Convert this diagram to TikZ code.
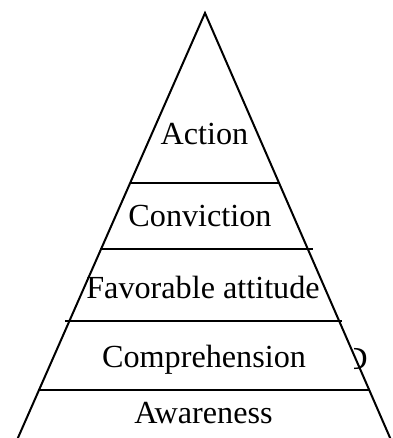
\documentclass[tikz,border=0pt]{standalone}
\usepackage{fontspec}
\setmainfont{Liberation Serif}
\begin{document}
\begin{tikzpicture}[x=1pt,y=-1pt,
  edge/.style={line width=2pt,line join=miter},
  lbl/.style={anchor=base,inner sep=0pt,font=\fontsize{32.2}{36}\selectfont}]
\useasboundingbox (0,0) rectangle (392,438);
\coordinate (apex) at (205,13);
\coordinate (bl) at (17,440);
\coordinate (br) at (391,440);
\draw[edge] (bl) -- (apex) -- (br);
\coordinate (l1a) at (130,183); \coordinate (l1b) at (280,183);
\coordinate (l2a) at (100,249); \coordinate (l2b) at (313,249);
\coordinate (l3a) at (65,321);  \coordinate (l3b) at (342,321);
\coordinate (l4a) at (38,390);  \coordinate (l4b) at (370,390);
\draw[edge] (l1a) -- (l1b);
\draw[edge] (l2a) -- (l2b);
\draw[edge] (l3a) -- (l3b);
\draw[edge] (l4a) -- (l4b);
\node[lbl] (action) at (204.5,145) {Action};
\node[lbl] (conviction) at (200,226) {Conviction};
\node[lbl] (favorable) at (203,298) {Favorable attitude};
\node[lbl] (comprehension) at (204,367) {Comprehension};
\node[lbl] (awareness) at (203.5,423) {Awareness};
\begin{scope}
\clip (354,340) rectangle (380,380);
\node[lbl] (stray) at (356,369) {D};
\end{scope}
\end{tikzpicture}
\end{document}
